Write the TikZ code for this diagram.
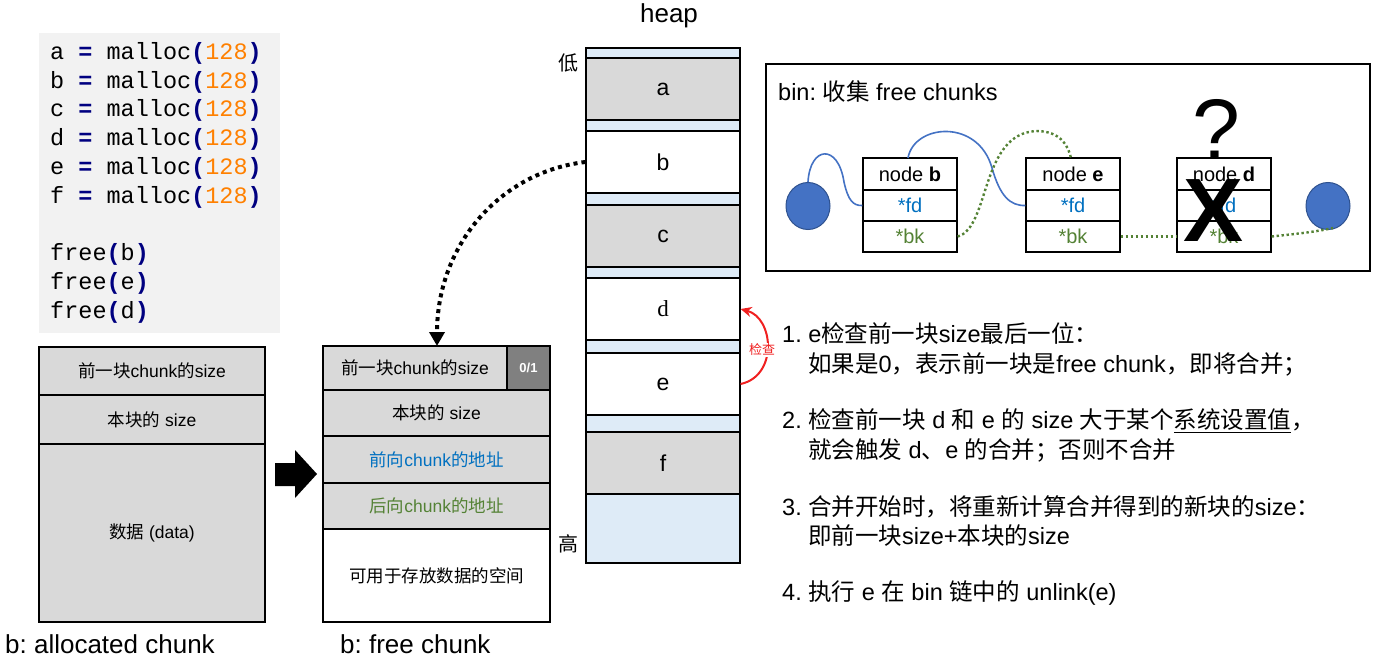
\documentclass[tikz,border=0pt]{standalone}
\usepackage{fontspec}
\setmainfont{Liberation Sans}
\newfontfamily\zhfont{Noto Sans CJK SC}
\newfontfamily\monofont{Liberation Mono}
\newfontfamily\seriffont{Liberation Serif}
\newcommand\zh[1]{{\zhfont #1}}
\usetikzlibrary{arrows.meta,shapes.geometric}
\definecolor{gfill}{HTML}{D9D9D9}
\definecolor{dgfill}{HTML}{808080}
\definecolor{lblue}{HTML}{DEEBF7}
\definecolor{codebg}{HTML}{F2F2F2}
\definecolor{navy}{HTML}{000080}
\definecolor{orng}{HTML}{FF8000}
\definecolor{tblue}{HTML}{0070C0}
\definecolor{tgreen}{HTML}{548235}
\definecolor{cblue}{HTML}{4472C4}
\definecolor{cblueline}{HTML}{2F528F}
\definecolor{redc}{HTML}{F02020}
\newcommand\codeop[1]{\textcolor{navy}{\textbf{#1}}}
\newcommand\codenum[1]{\textcolor{orng}{#1}}
\frenchspacing
\tikzset{
  codeline/.style={anchor=west, inner sep=0, font=\fontsize{23.5}{28}\monofont},
  hseg/.style={draw, line width=1.2pt, minimum width=154pt, inner sep=0, font=\fontsize{23}{28}\selectfont},
  crow/.style={draw, line width=1.2pt, inner sep=0, font=\fontsize{17.5}{21}\selectfont},
  nrow/.style={draw, line width=1.2pt, minimum width=94pt, inner sep=0, font=\fontsize{20}{24}\selectfont},
  bigtxt/.style={font=\fontsize{26}{30}\selectfont, inner sep=0},
  rtxt/.style={anchor=west, inner sep=0, font=\fontsize{23.5}{28}\selectfont},
  blink/.style={cblue, line width=1.6pt},
  glink/.style={tgreen, line width=2.4pt, dash pattern=on 2.4pt off 2.6pt},
  bcirc/.style={draw=cblueline, fill=cblue, line width=1pt, minimum width=44pt, minimum height=47pt, ellipse, inner sep=0}
}
\begin{document}
\begin{tikzpicture}[x=1pt,y=-1pt]
\useasboundingbox (0,0) rectangle (1378,658);
\fill[white] (0,0) rectangle (1378,658);

% code block
\node[fill=codebg, minimum width=241pt, minimum height=300pt, inner sep=0] (code) at (159.5,183) {};
\node[codeline] (l1) at (50,53) {a \codeop{=} malloc\codeop{(}\codenum{128}\codeop{)}};
\node[codeline] (l2) at (50,82) {b \codeop{=} malloc\codeop{(}\codenum{128}\codeop{)}};
\node[codeline] (l3) at (50,110) {c \codeop{=} malloc\codeop{(}\codenum{128}\codeop{)}};
\node[codeline] (l4) at (50,139) {d \codeop{=} malloc\codeop{(}\codenum{128}\codeop{)}};
\node[codeline] (l5) at (50,168) {e \codeop{=} malloc\codeop{(}\codenum{128}\codeop{)}};
\node[codeline] (l6) at (50,197) {f \codeop{=} malloc\codeop{(}\codenum{128}\codeop{)}};
\node[codeline] (l7) at (50,254) {free\codeop{(}b\codeop{)}};
\node[codeline] (l8) at (50,283) {free\codeop{(}e\codeop{)}};
\node[codeline] (l9) at (50,312) {free\codeop{(}d\codeop{)}};

% allocated chunk
\node[crow, fill=gfill, minimum width=226pt, minimum height=48pt] (a1) at (152,371) {\zh{前一块}chunk\zh{的}size};
\node[crow, fill=gfill, minimum width=226pt, minimum height=49pt] (a2) at (152,419.5) {\zh{本块的} size};
\node[crow, fill=gfill, minimum width=226pt, minimum height=178pt] (a3) at (152,533) {\zh{数据} (data)};
\node[bigtxt, anchor=west] (lab1) at (5,644) {b: allocated chunk};

% big arrow
\fill (275,463) -- (295,463) -- (295,450) -- (317,474) -- (295,498) -- (295,486) -- (275,486) -- cycle;

% free chunk
\node[crow, fill=gfill, minimum width=184pt, minimum height=44pt] (f1) at (415,368) {\zh{前一块}chunk\zh{的}size};
\node[crow, fill=dgfill, minimum width=43pt, minimum height=44pt, font=\fontsize{13}{15}\selectfont\bfseries, text=white] (f1b) at (528.5,368) {0/1};
\node[crow, fill=gfill, minimum width=227pt, minimum height=46pt] (f2) at (436.5,413) {\zh{本块的} size};
\node[crow, fill=gfill, minimum width=227pt, minimum height=47pt, text=tblue] (f3) at (436.5,459.5) {\zh{前向}chunk\zh{的地址}};
\node[crow, fill=gfill, minimum width=227pt, minimum height=46pt, text=tgreen] (f4) at (436.5,506) {\zh{后向}chunk\zh{的地址}};
\node[crow, fill=white, minimum width=227pt, minimum height=93pt] (f5) at (436.5,575.5) {\zh{可用于存放数据的空间}};
\node[bigtxt, anchor=west] (lab2) at (340,644) {b: free chunk};
\coordinate (fctop) at (437,346);

% heap
\node[bigtxt] (heap) at (669,16) {heap};
\node[hseg, fill=lblue, minimum height=10pt] (s0) at (663,53) {};
\node[hseg, fill=gfill, minimum height=62pt] (ha) at (663,89) {a};
\node[hseg, fill=lblue, minimum height=11pt] (s1) at (663,125.5) {};
\node[hseg, fill=white, minimum height=62pt] (hb) at (663,162) {b};
\node[hseg, fill=lblue, minimum height=12pt] (s2) at (663,199) {};
\node[hseg, fill=gfill, minimum height=62pt] (hc) at (663,236) {c};
\node[hseg, fill=lblue, minimum height=11pt] (s3) at (663,272.5) {};
\node[hseg, fill=white, minimum height=62pt] (hd) at (663,309) {\seriffont d};
\node[hseg, fill=lblue, minimum height=13pt] (s4) at (663,346.5) {};
\node[hseg, fill=white, minimum height=62pt] (he) at (663,384) {e};
\node[hseg, fill=lblue, minimum height=17pt] (s5) at (663,423.5) {};
\node[hseg, fill=gfill, minimum height=62pt] (hf) at (663,463) {f};
\node[hseg, fill=lblue, minimum height=69pt] (s6) at (663,528.5) {};
\node[inner sep=0, font=\fontsize{20}{24}\zhfont] (low) at (568,63) {低};
\node[inner sep=0, font=\fontsize{20}{24}\zhfont] (high) at (568,544) {高};

% dotted arrow b -> free chunk
\draw[line width=4pt, dash pattern=on 4pt off 4pt, -{Triangle[length=14pt,width=15pt]}] (hb.west) .. controls (500,172) and (437,245) .. (fctop);

% red check arrow
\draw[redc, line width=2pt, -{Stealth[length=11pt,width=10pt]}] (he.east) .. controls (778,376) and (774,318) .. (hd.east);
\node[text=redc, fill=white, inner sep=0.5pt, font=\fontsize{13}{15}\zhfont] (chk) at (762,350) {检查};

% bin box
\node[draw, line width=1.2pt, minimum width=604pt, minimum height=207pt, inner sep=0] (bin) at (1068,167.5) {};
\node[anchor=west, inner sep=0, font=\fontsize{23.5}{28}\selectfont] (bintitle) at (778,92) {bin: \zh{收集} free chunks};

% list nodes
\node[nrow, minimum height=32pt] (nb1) at (910,174) {node \textbf{b}};
\node[nrow, minimum height=31pt, text=tblue] (nb2) at (910,205.5) {*fd};
\node[nrow, minimum height=31pt, text=tgreen] (nb3) at (910,236.5) {*bk};
\node[nrow, minimum height=32pt] (ne1) at (1073,174) {node \textbf{e}};
\node[nrow, minimum height=31pt, text=tblue] (ne2) at (1073,205.5) {*fd};
\node[nrow, minimum height=31pt, text=tgreen] (ne3) at (1073,236.5) {*bk};
\node[nrow, minimum height=32pt] (nd1) at (1224,174) {node \textbf{d}};
\node[nrow, minimum height=31pt, text=tblue] (nd2) at (1224,205.5) {*fd};
\node[nrow, minimum height=31pt, text=tgreen] (nd3) at (1224,236.5) {*bk};

\node[bcirc] (lc) at (808,206) {};
\node[bcirc] (rc) at (1328,206) {};

% links
\draw[blink] (lc.north) .. controls (810,146) and (838,143) .. (844,182) .. controls (848,200) and (853,206) .. (nb2.west);
\draw[blink] (908,158) .. controls (914,124) and (978,118) .. (992,168) .. controls (1000,196) and (1010,206) .. (ne2.west);
\draw[glink] (nb3.east) .. controls (990,228) and (980,134) .. (1036,131) .. controls (1060,131) and (1068,145) .. (1071,158);
\draw[glink] (ne3.east) -- (nd3.west);
\draw[glink] (nd3.east) .. controls (1295,234) and (1315,232) .. (1333,228);

% ? and X
\node[anchor=base, inner sep=0, font=\fontsize{86}{90}\selectfont] (qm) at (1216,160) {?};
\node[anchor=base, inner sep=0, font=\fontsize{90}{94}\selectfont\bfseries] (xx) at (1213,241) {X};

% explanation text
\node[rtxt] (t1a) at (782,334) {1. e\zh{检查前一块}size\zh{最后一位：}};
\node[rtxt] (t1b) at (808,364) {\zh{如果是}0\zh{，表示前一块是}free chunk\zh{，即将合并；}};
\node[rtxt] (t2a) at (782,421) {2. \zh{检查前一块} d \zh{和} e \zh{的} size \zh{大于某个}\underline{\zh{系统设置值}}\zh{，}};
\node[rtxt] (t2b) at (808,450) {\zh{就会触发} d\zh{、}e \zh{的合并；否则不合并}};
\node[rtxt] (t3a) at (782,507) {3. \zh{合并开始时，将重新计算合并得到的新块的}size\zh{：}};
\node[rtxt] (t3b) at (808,536) {\zh{即前一块}size+\zh{本块的}size};
\node[rtxt] (t4) at (782,593) {4. \zh{执行} e \zh{在} bin \zh{链中的} unlink(e)};
\end{tikzpicture}
\end{document}
